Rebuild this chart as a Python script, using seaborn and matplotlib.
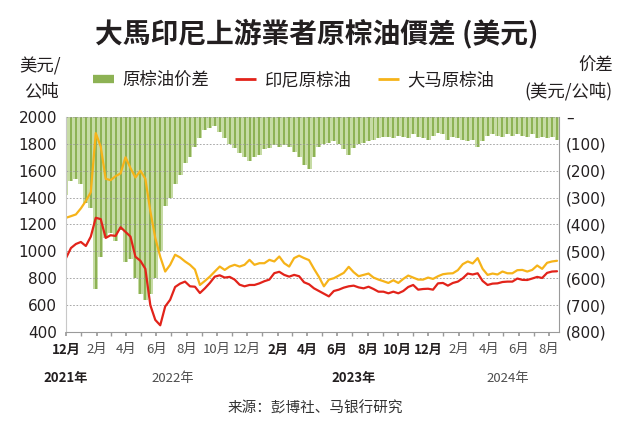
import matplotlib
matplotlib.use("Agg")
import matplotlib.dates as mdates
import matplotlib.pyplot as plt
import pandas as pd
import seaborn as sns
from matplotlib.lines import Line2D

sns.set_theme(style="white")
plt.rcParams["font.family"] = ["Noto Sans CJK SC", "DejaVu Sans"]

# every 10 days from 1 Dec 2021
dates = pd.date_range("2021-12-01", periods=100, freq="10D")

# 大马原棕油 (USD/t)
malaysia = [
    1250, 1262, 1275, 1320, 1375, 1440, 1880, 1780, 1540, 1530,
    1560, 1580, 1700, 1620, 1550, 1600, 1540, 1300, 1100, 960,
    850, 900, 975, 955, 925, 900, 865, 750, 780, 812,
    850, 887, 862, 887, 900, 887, 900, 937, 900, 912,
    912, 937, 925, 962, 912, 887, 950, 968, 950, 935,
    870, 810, 740, 790, 800, 820, 840, 885, 845, 815,
    825, 835, 805, 790, 778, 765, 785, 765, 795, 820,
    805, 790, 790, 805, 795, 815, 830, 835, 837, 860,
    905, 925, 910, 950, 870, 825, 835, 828, 850, 837,
    837, 860, 862, 850, 862, 895, 870, 915, 925, 930,
]

# 印尼原棕油 (USD/t)
indonesia = [
    950, 1025, 1055, 1070, 1040, 1110, 1250, 1240, 1100, 1120,
    1115, 1180, 1145, 1110, 960, 930, 870, 600, 490, 450,
    590, 640, 735, 760, 775, 740, 737, 690, 725, 765,
    812, 822, 805, 810, 790, 752, 740, 750, 750, 762,
    778, 790, 838, 848, 825, 812, 825, 815, 770, 755,
    725, 705, 685, 665, 705, 715, 730, 740, 745, 732,
    725, 737, 720, 700, 700, 688, 700, 688, 705, 735,
    750, 715, 720, 722, 715, 762, 765, 745, 765, 775,
    800, 835, 828, 837, 780, 750, 760, 762, 772, 775,
    775, 798, 788, 787, 798, 810, 802, 840, 850, 852,
]

# 原棕油价差 (USD/t, right axis)
spread = [
    -290, -240, -230, -250, -320, -340, -640, -520, -450, -430,
    -460, -420, -540, -530, -600, -660, -680, -660, -600, -500,
    -330, -300, -250, -215, -170, -150, -110, -80, -50, -40,
    -35, -55, -80, -100, -115, -135, -150, -165, -150, -140,
    -120, -115, -105, -110, -105, -110, -130, -150, -180, -195,
    -150, -110, -100, -95, -90, -100, -120, -140, -115, -100,
    -95, -90, -85, -80, -75, -75, -80, -70, -75, -80,
    -65, -75, -80, -85, -70, -60, -65, -85, -75, -80,
    -85, -90, -85, -110, -90, -70, -65, -70, -75, -65,
    -70, -65, -70, -75, -65, -80, -75, -80, -75, -85,
]

month_ticks = pd.date_range("2021-12-01", "2024-08-01", freq="2MS")
year_labels = ["2021年", "2022年", "2023年", "2024年"]
year_pos = pd.to_datetime(["2021-12-01", "2022-07-04", "2023-07-05", "2024-05-10"])
left_ticks = list(range(400, 2001, 200))
right_ticks = list(range(-800, 1, 100))

GREEN = "#8db254"
GREEN_LIGHT = "#c6dba4"
RED = "#e2231a"
ORANGE = "#f6b319"
INK = "#231f20"
GREY = "#4d4d4d"

fig = plt.figure(figsize=(6.3, 4.32), dpi=100)
ax = fig.add_axes([66 / 630, 1 - 332 / 432, (559 - 66) / 630, (332 - 117) / 432])
ax2 = ax.twinx()
ax.set_zorder(ax2.get_zorder() + 1)
ax.patch.set_visible(False)

# spread bars hang down from zero on the right axis (light fill + darker stripes)
ax2.bar(dates, spread, width=10, color=GREEN_LIGHT, linewidth=0)
ax2.bar(dates, spread, width=4, color=GREEN, linewidth=0)
ax2.set_ylim(-800, 0)

sns.lineplot(x=dates, y=indonesia, ax=ax, color=RED, linewidth=1.6)
sns.lineplot(x=dates, y=malaysia, ax=ax, color=ORANGE, linewidth=1.6)

ax.set_xlim(pd.Timestamp("2021-12-01"), pd.Timestamp("2024-08-21"))
ax.set_ylim(400, 2000)
ax.set_xlabel("")
ax.set_ylabel("")

ax.set_yticks(left_ticks, labels=[str(v) for v in left_ticks],
              fontfamily="DejaVu Sans", fontsize=11, color=INK)
ax2.set_yticks(right_ticks,
               labels=["–" if v == 0 else f"({-v})" for v in right_ticks],
               fontfamily="DejaVu Sans", fontsize=11, color=INK)
ax.tick_params(axis="y", length=0, pad=6.5)
ax2.tick_params(axis="y", length=0, pad=5)

ax.set_xticks(month_ticks, labels=[f"{d.month}月" for d in month_ticks], fontsize=9.5)
ax.xaxis.set_minor_locator(mdates.MonthLocator())
ax.tick_params(axis="x", which="both", length=3, color="#9a9a9a", pad=5, direction="out", bottom=True)
for lbl, d in zip(ax.get_xticklabels(), month_ticks):
    if d.year in (2021, 2023):
        lbl.set_color(INK)
        lbl.set_fontweight("bold")
    else:
        lbl.set_color(GREY)

for pos, s in zip(year_pos, year_labels):
    bold = s in ("2021年", "2023年")
    ax.text(pos, -0.214, s, transform=ax.get_xaxis_transform(), ha="center", va="center",
            fontsize=9.5, color=INK if bold else GREY, fontweight="bold" if bold else "normal")

ax.grid(axis="y", linestyle=(0, (2, 2)), color="#9a9a9a", linewidth=0.6)
ax.grid(axis="x", visible=False)
ax.spines["top"].set_visible(False)
ax.spines["left"].set_color("#c8c8c8")
ax.spines["bottom"].set_color("#9a9a9a")
ax.spines["right"].set_color("#9a9a9a")
for side in ["left", "bottom", "right"]:
    ax.spines[side].set_linewidth(0.8)
for sp in ax2.spines.values():
    sp.set_visible(False)

handles = [
    Line2D([], [], color=GREEN, lw=6, solid_capstyle="butt"),
    Line2D([], [], color=RED, lw=2, solid_capstyle="butt"),
    Line2D([], [], color=ORANGE, lw=2, solid_capstyle="butt"),
]
fig.legend(handles, ["原棕油价差", "印尼原棕油", "大马原棕油"], loc="center",
           bbox_to_anchor=(0.466, 1 - 80 / 432), ncol=3, frameon=False, fontsize=12.5,
           handlelength=1.2, handletextpad=0.5, columnspacing=1.5, labelcolor=INK)

fig.text(40 / 630, 1 - 66 / 432, "美元/", ha="center", va="center", fontsize=12.5, color=INK)
fig.text(41 / 630, 1 - 91 / 432, "公吨", ha="center", va="center", fontsize=12.5, color=INK)
fig.text(613 / 630, 1 - 66 / 432, "价差", ha="right", va="center", fontsize=12.5, color=INK)
fig.text(613 / 630, 1 - 91 / 432, "(美元/公吨)", ha="right", va="center", fontsize=12.5, color=INK)

fig.text(0.502, 1 - 33 / 432, "大馬印尼上游業者原棕油價差 (美元)", ha="center", va="center",
         fontsize=20, fontweight="bold", color=INK, family=["Noto Sans CJK TC", "DejaVu Sans"])
fig.text(0.5, 1 - 408 / 432, "来源：彭博社、马银行研究", ha="center", va="center",
         fontsize=10.5, color="#333333")

fig.savefig("out.png", dpi=100)
plt.close(fig)
